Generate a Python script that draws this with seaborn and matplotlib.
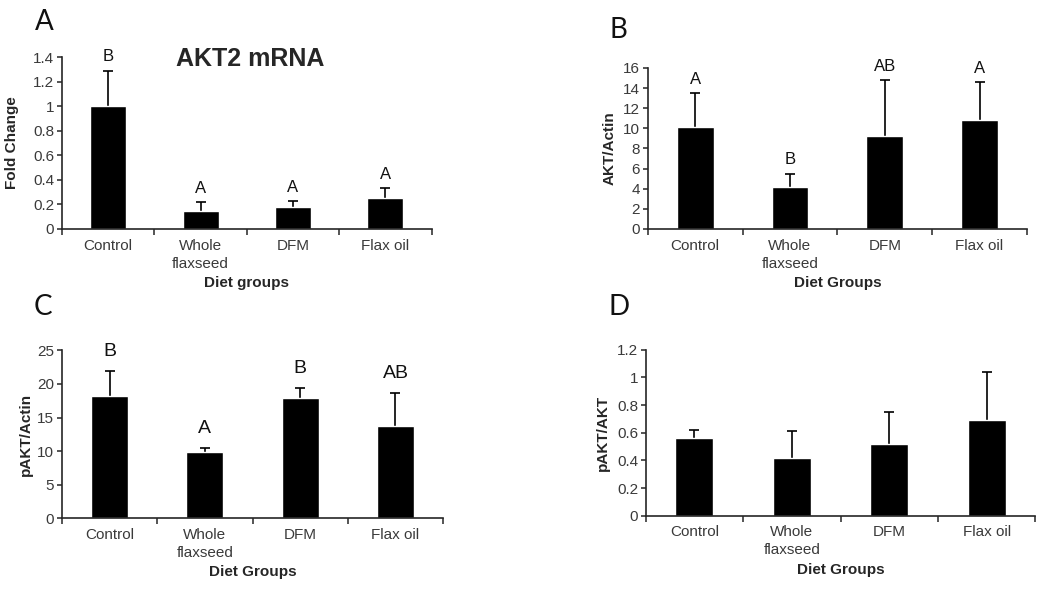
import numpy as np
import pandas as pd
import matplotlib
matplotlib.use("Agg")
import matplotlib.pyplot as plt
import seaborn as sns
from matplotlib.ticker import FixedLocator

# data
groups = ["Control", "Whole\nflaxseed", "DFM", "Flax oil"]

akt2_mrna = [1.0, 0.15, 0.18, 0.25]
akt2_mrna_top = [1.29, 0.22, 0.23, 0.33]
akt2_letters = ["B", "A", "A", "A"]

akt_actin = [10.1, 4.2, 9.2, 10.8]
akt_actin_top = [13.5, 5.5, 14.8, 14.6]
akt_actin_letters = ["A", "B", "AB", "A"]

pakt_actin = [18.2, 9.9, 17.9, 13.8]
pakt_actin_top = [21.9, 10.4, 19.4, 18.7]
pakt_actin_letters = ["B", "A", "B", "AB"]

pakt_akt = [0.56, 0.42, 0.52, 0.69]
pakt_akt_top = [0.62, 0.61, 0.75, 1.04]

sns.set_style("ticks")
plt.rcParams["font.family"] = ["Liberation Sans", "DejaVu Sans"]

fig = plt.figure(figsize=(10.5, 5.99), dpi=100)

tick_col = "#3a3a3a"


def panel(rect, vals, tops, letters, ylim, yticks, ytl, ylabel, xlabel,
          ypad, letter_size=12, letter_off=4.5):
    ax = fig.add_axes(rect)
    df = pd.DataFrame({"group": groups, "value": vals})
    sns.barplot(data=df, x="group", y="value", color="black", saturation=1,
                width=0.39, errorbar=None, ax=ax, zorder=2)
    x = np.arange(len(vals))
    v = np.array(vals)
    t = np.array(tops)
    # upper error only
    eb = ax.errorbar(x, v, yerr=[np.zeros(len(v)), t - v], fmt="none",
                     ecolor="black", elinewidth=1.2, capsize=3.6,
                     capthick=1.2, zorder=1)
    for cap in eb[1]:
        if np.allclose(cap.get_ydata(), v):
            cap.set_visible(False)
    if letters:
        for xi, ti, lab in zip(x, t, letters):
            ax.annotate(lab, (xi, ti), xytext=(0, letter_off),
                        textcoords="offset points", ha="center", va="bottom",
                        fontsize=letter_size, color="#111111")
    ax.set_xlim(-0.5, len(vals) - 0.5)
    ax.set_ylim(*ylim)
    ax.set_yticks(yticks)
    ax.set_yticklabels(ytl)
    ax.xaxis.set_minor_locator(FixedLocator(np.arange(-0.5, len(vals), 1.0)))
    ax.tick_params(axis="x", which="major", length=0, pad=7,
                   labelsize=11, labelcolor=tick_col)
    ax.tick_params(axis="x", which="minor", length=4, width=1.1,
                   direction="out")
    ax.tick_params(axis="y", length=3.5, width=1.1, labelsize=11,
                   labelcolor=tick_col, pad=2)
    for lab in ax.get_xticklabels():
        lab.set_linespacing(1.35)
    ax.set_xlabel(xlabel, fontsize=11, fontweight="bold", labelpad=4)
    ax.set_ylabel(ylabel, fontsize=11, fontweight="bold", labelpad=ypad)
    sns.despine(ax=ax)
    for s in ["left", "bottom"]:
        ax.spines[s].set_linewidth(1.2)
    return ax


axA = panel([0.059, 0.6177, 0.352, 0.287], akt2_mrna, akt2_mrna_top,
            akt2_letters, (0, 1.4), np.arange(0, 1.41, 0.2),
            ["0", "0.2", "0.4", "0.6", "0.8", "1", "1.2", "1.4"],
            "Fold Change", "Diet groups", 10)
axA.text(0.508, 0.99, "AKT2 mRNA", transform=axA.transAxes, ha="center",
         va="center", fontsize=18, fontweight="bold")

panel([0.617, 0.6177, 0.361, 0.269], akt_actin, akt_actin_top,
      akt_actin_letters, (0, 16), np.arange(0, 17, 2),
      [str(v) for v in range(0, 17, 2)], "AKT/Actin", "Diet Groups", 5)

panel([0.059, 0.135, 0.363, 0.280], pakt_actin, pakt_actin_top,
      pakt_actin_letters, (0, 25), np.arange(0, 26, 5),
      [str(v) for v in range(0, 26, 5)], "pAKT/Actin", "Diet Groups", 3,
      letter_size=14, letter_off=8)

panel([0.615, 0.139, 0.371, 0.277], pakt_akt, pakt_akt_top, None,
      (0, 1.2), np.arange(0, 1.21, 0.2),
      ["0", "0.2", "0.4", "0.6", "0.8", "1", "1.2"],
      "pAKT/AKT", "Diet Groups", 5)

for lab, px, py in [("A", 44, 22), ("B", 618, 30), ("C", 43, 307), ("D", 619, 307)]:
    fig.text(px / 1050, 1 - py / 599, lab, ha="center", va="center",
             fontsize=20, family=["Lato", "DejaVu Sans"], color="#111111")

fig.savefig("out.png", dpi=100)
